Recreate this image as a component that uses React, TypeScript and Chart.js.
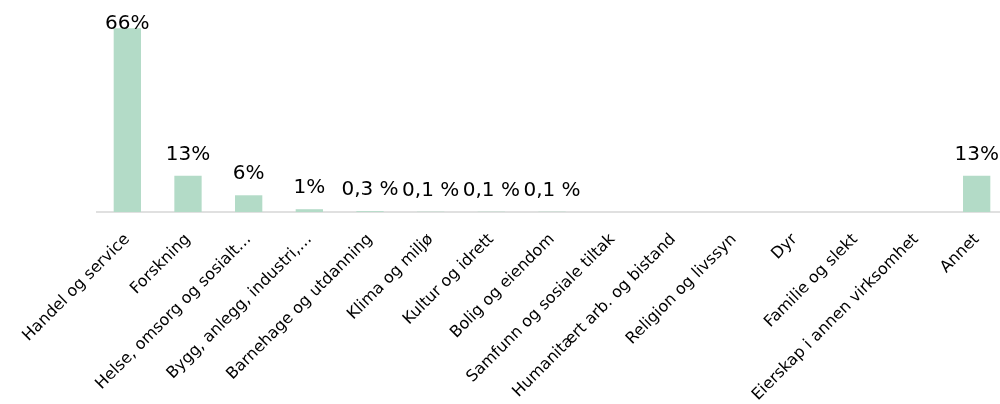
import { useEffect, useRef } from 'react'
import { Chart, registerables, Plugin } from 'chart.js'

Chart.register(...registerables)

const categories = [
  'Handel og service',
  'Forskning',
  'Helse, omsorg og sosialt…',
  'Bygg, anlegg, industri,…',
  'Barnehage og utdanning',
  'Klima og miljø',
  'Kultur og idrett',
  'Bolig og eiendom',
  'Samfunn og sosiale tiltak',
  'Humanitært arb. og bistand',
  'Religion og livssyn',
  'Dyr',
  'Familie og slekt',
  'Eierskap i annen virksomhet',
  'Annet',
]

const shares = [66, 13, 6, 1, 0.3, 0.1, 0.1, 0.1, 0, 0, 0, 0, 0, 0, 13]

const shareLabels = ['66%', '13%', '6%', '1%', '0,3 %', '0,1 %', '0,1 %', '0,1 %', '', '', '', '', '', '', '13%']

const BAR_COLOR = '#b3dbc7'
const FONT = '"DejaVu Sans", sans-serif'

// draws the percentage above each bar, kept inside the top of the canvas
const valueLabelPlugin: Plugin<'bar'> = {
  id: 'valueLabels',
  afterDatasetsDraw(chart) {
    const { ctx } = chart
    const meta = chart.getDatasetMeta(0)
    ctx.save()
    ctx.font = `20px ${FONT}`
    ctx.fillStyle = '#000'
    ctx.textAlign = 'center'
    ctx.textBaseline = 'alphabetic'
    meta.data.forEach((bar, i) => {
      const text = shareLabels[i]
      if (!text) return
      const y = Math.max(bar.y - 16, 28.5)
      ctx.fillText(text, bar.x, y)
    })
    ctx.restore()
  },
}

export default function App() {
  const canvasRef = useRef<HTMLCanvasElement>(null)
  const chartRef = useRef<Chart<'bar'> | null>(null)

  useEffect(() => {
    document.body.style.margin = '0'
    if (!canvasRef.current) return
    const ctx = canvasRef.current.getContext('2d')
    if (!ctx) return

    chartRef.current = new Chart(ctx, {
      type: 'bar',
      data: {
        labels: categories,
        datasets: [
          {
            data: shares,
            backgroundColor: BAR_COLOR,
            borderWidth: 0,
            categoryPercentage: 1,
            barPercentage: 0.45,
          },
        ],
      },
      options: {
        responsive: true,
        maintainAspectRatio: false,
        animation: false,
        layout: { padding: { left: 97, right: 13, top: 17, bottom: 0 } },
        plugins: {
          legend: { display: false },
          tooltip: { enabled: false },
        },
        scales: {
          x: {
            grid: { display: false, drawTicks: false },
            border: { display: true, color: '#e0e0e0', width: 2 },
            ticks: {
              autoSkip: false,
              maxRotation: 45,
              minRotation: 45,
              padding: 18,
              color: '#000',
              font: { family: FONT, size: 16 },
            },
            afterFit: (scale) => {
              scale.height = 192
            },
          },
          y: {
            display: false,
            min: 0,
            max: 70,
          },
        },
      },
      plugins: [valueLabelPlugin],
    })

    return () => {
      if (chartRef.current) {
        chartRef.current.destroy()
        chartRef.current = null
      }
    }
  }, [])

  return (
    <div style={{ width: 1000, height: 404, overflow: 'hidden', background: '#fff' }}>
      <div style={{ width: 1020, height: 404, position: 'relative' }}>
        <canvas ref={canvasRef} />
      </div>
    </div>
  )
}
